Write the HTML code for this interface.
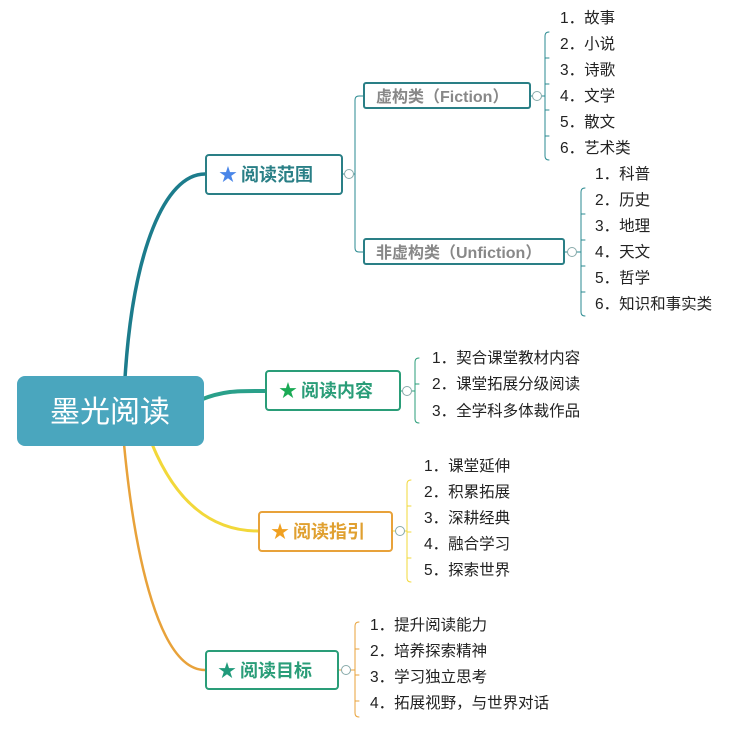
<!DOCTYPE html>
<html><head><meta charset="utf-8"><style>
body{margin:0;background:#fff}
text{font-family:"Liberation Sans","Noto Sans CJK SC",sans-serif}
.i{font-size:15.5px;fill:#222}
</style></head><body>
<svg width="745" height="731" viewBox="0 0 745 731" xmlns="http://www.w3.org/2000/svg">
<g fill="none" stroke-linecap="round">
<path d="M125,378 C133,250 165,174 205,174" stroke="#1c7c8c" stroke-width="3.5"/>
<path d="M200,400 C225,390 240,391 265,391" stroke="#2aa08a" stroke-width="4"/>
<path d="M152,444 C175,500 210,531 258,531" stroke="#f2d83a" stroke-width="3"/>
<path d="M124,444 C135,560 160,670 205,670" stroke="#e8a23a" stroke-width="2.5"/>
<path d="M343,174 H355 M363,96 H359 Q355,96 355,100 V248 Q355,252 359,252 H363" stroke="#2a8a90" stroke-width="1"/>
<path d="M545,36 Q545,32 549,32 M545,36 V156 Q545,160 549,160 M545,58 H549 M545,84 H549 M545,110 H549 M545,136 H549 M531,96 H545" stroke="#2a8a90" stroke-width="1"/>
<path d="M581,192 Q581,188 585,188 M581,192 V312 Q581,316 585,316 M581,214 H585 M581,240 H585 M581,266 H585 M581,292 H585 M565,252 H581" stroke="#2a8a90" stroke-width="1"/>
<path d="M401,391 H415 M415,362 Q415,358 419,358 M415,362 V419 Q415,423 419,423 M415,384 H419" stroke="#2a9d78" stroke-width="1"/>
<path d="M393,531 H407 M407,484 Q407,480 411,480 M407,484 V578 Q407,582 411,582 M407,506 H411 M407,532 H411 M407,558 H411" stroke="#f2d83a" stroke-width="1"/>
<path d="M339,670 H355 M355,626 Q355,622 359,622 M355,626 V713 Q355,717 359,717 M355,649 H359 M355,675 H359 M355,701 H359" stroke="#e8a23a" stroke-width="1"/>
</g>
<rect x="17" y="376" width="187" height="70" rx="8" fill="#4aa6be"/>
<text x="110" y="422" font-size="30" fill="#fff" text-anchor="middle">墨光阅读</text>
<rect x="206" y="155" width="136" height="39" rx="3" fill="#fff" stroke="#2a7f86" stroke-width="2"/>
<text x="219" y="181" font-size="18" fill="#4a86e8">★</text><text x="241" y="181" font-size="18" font-weight="bold" fill="#2a7f86">阅读范围</text>
<rect x="266" y="371" width="134" height="39" rx="3" fill="#fff" stroke="#2a9d78" stroke-width="2"/>
<text x="279" y="397" font-size="18" fill="#1aaa55">★</text><text x="301" y="397" font-size="18" font-weight="bold" fill="#2a9d78">阅读内容</text>
<rect x="259" y="512" width="133" height="39" rx="3" fill="#fff" stroke="#e8a23a" stroke-width="2"/>
<text x="271" y="538" font-size="18" fill="#f0a020">★</text><text x="293" y="538" font-size="18" font-weight="bold" fill="#e0a030">阅读指引</text>
<rect x="206" y="651" width="132" height="38" rx="3" fill="#fff" stroke="#2a9d78" stroke-width="2"/>
<text x="218" y="677" font-size="18" fill="#1f9a7a">★</text><text x="240" y="677" font-size="18" font-weight="bold" fill="#2a9d78">阅读目标</text>
<rect x="364" y="83" width="166" height="25" rx="2" fill="#fff" stroke="#2a7f86" stroke-width="2"/>
<text x="376" y="102" font-size="16" font-weight="bold" fill="#888">虚构类（Fiction）</text>
<rect x="364" y="239" width="200" height="25" rx="2" fill="#fff" stroke="#2a7f86" stroke-width="2"/>
<text x="376" y="258" font-size="16" font-weight="bold" fill="#888">非虚构类（Unfiction）</text>
<g fill="#fff" stroke="#8aa" stroke-width="1">
<circle cx="349" cy="174" r="4.5"/><circle cx="537" cy="96" r="4.5"/><circle cx="572" cy="252" r="4.5"/>
<circle cx="407" cy="391" r="4.5"/><circle cx="400" cy="531" r="4.5"/><circle cx="346" cy="670" r="4.5"/>
</g>
<g class="i">
<text x="560" y="23" class="i">1．故事</text><text x="560" y="49" class="i">2．小说</text><text x="560" y="75" class="i">3．诗歌</text>
<text x="560" y="101" class="i">4．文学</text><text x="560" y="127" class="i">5．散文</text><text x="560" y="153" class="i">6．艺术类</text>
<text x="595" y="179" class="i">1．科普</text><text x="595" y="205" class="i">2．历史</text><text x="595" y="231" class="i">3．地理</text>
<text x="595" y="257" class="i">4．天文</text><text x="595" y="283" class="i">5．哲学</text><text x="595" y="309" class="i">6．知识和事实类</text>
<text x="432" y="363" class="i">1．契合课堂教材内容</text><text x="432" y="389" class="i">2．课堂拓展分级阅读</text><text x="432" y="416" class="i">3．全学科多体裁作品</text>
<text x="424" y="471" class="i">1．课堂延伸</text><text x="424" y="497" class="i">2．积累拓展</text><text x="424" y="523" class="i">3．深耕经典</text>
<text x="424" y="549" class="i">4．融合学习</text><text x="424" y="575" class="i">5．探索世界</text>
<text x="370" y="630" class="i">1．提升阅读能力</text><text x="370" y="656" class="i">2．培养探索精神</text>
<text x="370" y="682" class="i">3．学习独立思考</text><text x="370" y="708" class="i">4．拓展视野，与世界对话</text>
</g>
</svg>
</body></html>
